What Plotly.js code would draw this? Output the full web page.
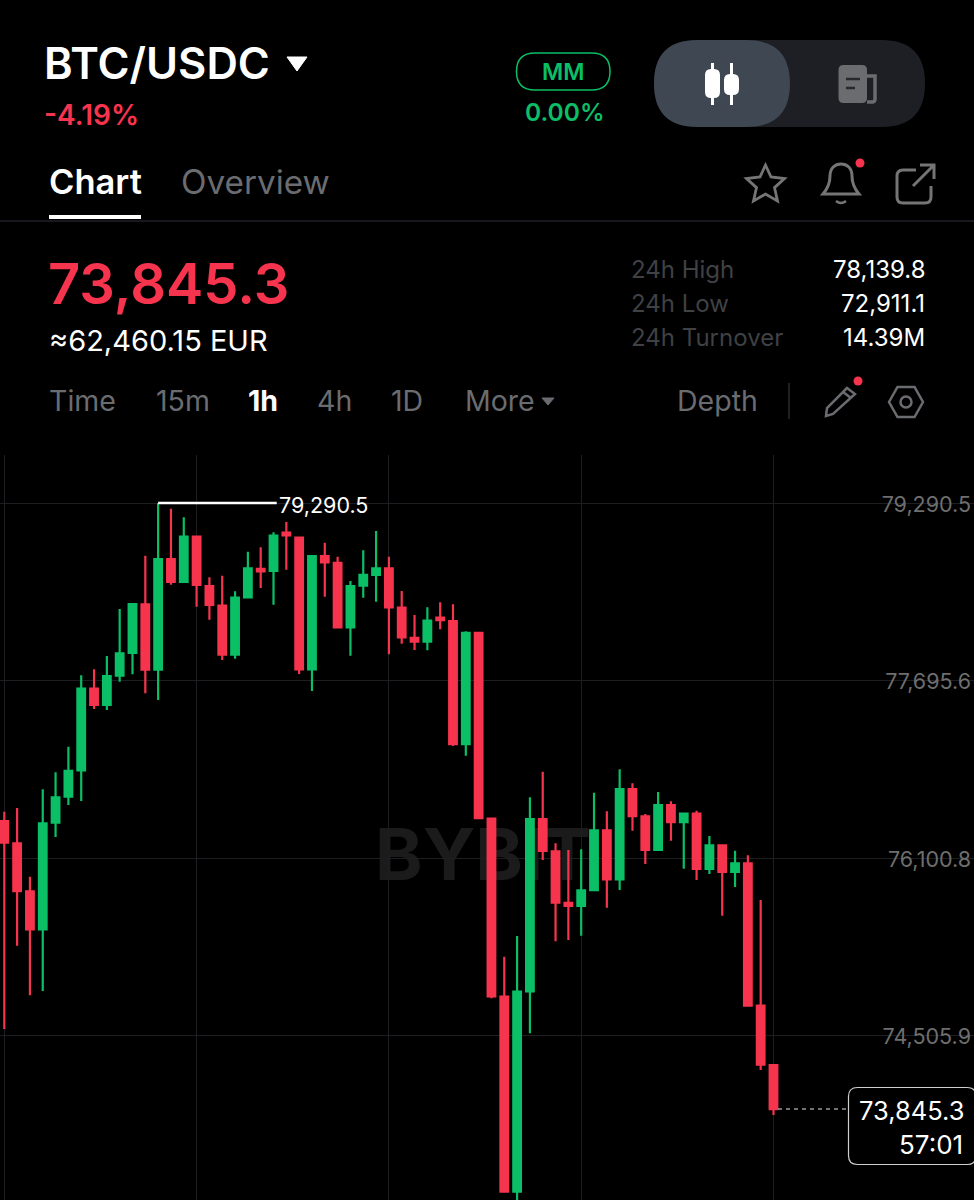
<!DOCTYPE html>
<html>
<head>
<meta charset="utf-8">
<script src="https://cdn.plot.ly/plotly-3.0.1.min.js"></script>
<style>
html,body{margin:0;padding:0;background:#000;width:974px;height:1200px;overflow:hidden}
#wm{position:absolute;left:375px;top:812px;font:700 72px Inter,sans-serif;color:#1b1b1b;line-height:84px;white-space:nowrap}
#chart{position:absolute;left:0;top:0;width:974px;height:1200px}
</style>
</head>
<body>
<div id="wm">BYBIT</div>
<div id="chart"></div>
<script>
const candleIndex = [0,1,2,3,4,5,6,7,8,9,10,11,12,13,14,15,16,17,18,19,20,21,22,23,24,25,26,27,28,29,30,31,32,33,34,35,36,37,38,39,40,41,42,43,44,45,46,47,48,49,50,51,52,53,54,55,56,57,58,59,60];
const opens = [76433,76233,75802,75460,76418,76652,76889,77622,77476,77739,77943,78381,77793,78787,78581,78988,78545,78368,77927,78443,78700,78680,79024,78979,77796,78814,78754,78174,78547,78644,78704,78350,78080,78044,78260,78230,77125,78125,76454,74855,73103,74903,76451,76161,75697,75670,75811,76350,75909,76721,76475,76173,76577,76424,76499,76002,76215,75975,76053,74774,74241];
const highs = [76517,76550,75933,76718,76871,77101,77742,77796,77916,78338,78386,78817,79290.5,79239,79162,78988,78623,78637,78497,78853,78893,79027,79120,78979,78823,78934,78808,78590,78866,79039,78808,78500,78284,78353,78398,78381,78138,78125,76454,75214,75400,76646,76876,76233,76173,76179,76688,76520,76898,76772,76496,76694,76610,76499,76526,76299,76215,76166,76125,75724,74241];
const lows = [74564,75313,74867,74906,76290,76577,76613,77440,77431,77685,77751,77581,77520,78556,78578,78359,78242,77880,77892,78434,78527,78377,78691,77754,77601,78449,78174,77919,78440,78404,77931,78026,77970,77967,78156,77107,77020,76458,74840,73103,72911.1,74526,76083,75352,75364,75403,75811,75654,75813,76346,76047,76173,76256,76005,75903,75957,75582,75840,74774,74196,73792];
const closes = [76238,75804,75460,76413,76646,76885,77622,77476,77736,77940,78383,77793,78787,78581,78988,78554,78374,77927,78440,78704,78677,78997,79000,77796,78814,78758,78174,78545,78644,78704,78353,78084,78044,78233,78239,77125,78125,76458,74858,73103,74900,76451,76164,75699,75670,75811,76350,75909,76721,76478,76173,76577,76424,76499,76002,76215,75975,76053,74774,74244,73845.3];

const yTickValues = [79290.5,77695.6,76100.8,74505.9];
const yTickLabels = ['79,290.5','77,695.6','76,100.8','74,505.9'];
const xGridValues = [0,15,30,45,60];
const peakPrice = 79290.5, peakLabel = '79,290.5', peakIndex = 12, peakLineEnd = 21.25;
const lastPrice = 73845.3, lastLabel = '73,845.3', countdown = '57:01', lastIndex = 60;

const RED='#F7344E', GREEN='#0BBF66', GREY='#6A6C70', DIM='#3F4145', ICON='#757575';

function ann(text,x,y,size,color,anchor,weight){
  return {text:text,x:x,y:y,xref:'x2',yref:'y2',showarrow:false,borderpad:0,
    xanchor:anchor||'left',yanchor:'middle',
    font:{family:'Inter, sans-serif',size:size,color:color,weight:weight||400}};
}
function rr(x0,y0,x1,y1,r){
  return `M${x0+r},${y0} L${x1-r},${y0} Q${x1},${y0} ${x1},${y0+r} L${x1},${y1-r} Q${x1},${y1} ${x1-r},${y1} L${x0+r},${y1} Q${x0},${y1} ${x0},${y1-r} L${x0},${y0+r} Q${x0},${y0} ${x0+r},${y0} Z`;
}
function shp(path,fill,stroke,w,layer){
  return {type:'path',path:path,xref:'x2',yref:'y2',fillcolor:fill||'rgba(0,0,0,0)',
    line:{color:stroke||'rgba(0,0,0,0)',width:stroke?(w||2):0},layer:layer||'above'};
}
function dot(cx,cy,r,fill,stroke,w){
  return {type:'circle',xref:'x2',yref:'y2',x0:cx-r,x1:cx+r,y0:cy-r,y1:cy+r,
    fillcolor:fill||'rgba(0,0,0,0)',line:{color:stroke||'rgba(0,0,0,0)',width:stroke?(w||2):0},layer:'above'};
}

const annotations = [
  ann('BTC/USDC',42.5,63,43.5,'#FFFFFF','left',600),
  ann('-4.19%',43,115,28,RED,'left',600),
  ann('Chart',47.5,181.5,34.5,'#FFFFFF','left',600),
  ann('Overview',179.5,182,33.3,GREY,'left',400),
  ann('MM',563,72,23,GREEN,'center',600),
  ann('0.00%',565,112,24.5,GREEN,'center',600),
  ann('73,845.3',47,283.5,56,RED,'left',600),
  ann('≈62,460.15 EUR',48,340,29,'#FFFFFF','left',400),
  ann('24h High',629.5,269.5,24,DIM,'left',400),
  ann('24h Low',629.5,303.5,24,DIM,'left',400),
  ann('24h Turnover',629.5,337.5,24,DIM,'left',400),
  ann('78,139.8',926,269.5,24,'#FFFFFF','right',400),
  ann('72,911.1',926,303.5,24,'#FFFFFF','right',400),
  ann('14.39M',926,337.5,24,'#FFFFFF','right',400),
  ann('Time',48,400.5,28.5,GREY),
  ann('15m',154.5,400.5,28.5,GREY),
  ann('1h',247,400.5,28.5,'#FFFFFF','left',700),
  ann('4h',316,400.5,28.5,GREY),
  ann('1D',389.5,400.5,28.5,GREY),
  ann('More',464,400.5,28.5,GREY),
  ann('Depth',676,400.5,28.5,GREY),
  ann(lastLabel,965,1110,25.5,'#FFFFFF','right',400),
  ann(countdown,963.5,1144,26,'#FFFFFF','right',400),
  {text:peakLabel,x:peakLineEnd,y:peakPrice,xref:'x',yref:'y',showarrow:false,borderpad:0,xanchor:'left',yanchor:'middle',xshift:1.5,yshift:-1.5,
   font:{family:'Inter, sans-serif',size:21.5,color:'#FFFFFF'}}
];

const shapes = [
  shp('M287,57 L307,57 L297,71 Z','#FFFFFF','#FFFFFF',1),
  shp('M49,217 L141,217','', '#FFFFFF',4),
  shp('M0,221 L974,221','', '#1E2028',1.5),
  shp(rr(516.5,53,610,90,18.5),'',GREEN,1.5),
  shp(rr(654,40,925,127,43.5),'#1D1F24'),
  shp(rr(654,40,790,127,43.5),'#3F4752'),
  shp('M712.5,63 L712.5,105','', '#FFFFFF',3),
  shp(rr(705,69,720,98,6),'#FFFFFF'),
  shp('M731.5,63 L731.5,105','', '#FFFFFF',3),
  shp(rr(724,74,739,95,6),'#FFFFFF'),
  shp(rr(838.5,65,867,103,5),'#6A6C70'),
  shp('M867,76 L875,76 L875,99 Q875,102 872,102 L867,102','', '#6A6C70',3.5),
  shp('M846,79 L860,79','', '#26282C',2.5),
  shp('M846,88 L855,88','', '#26282C',2.5),
  shp('M765.5,165 L771,177 L784.5,178.5 L774.5,187.6 L777.5,201 L765.5,194 L753.5,201 L756.5,187.6 L746.5,178.5 L760,177 Z','',ICON,2.8),
  shp('M823,194 L859,194 C853,187 852,182 852,176 C852,168 847,164 841,164 C835,164 830,168 830,176 C830,182 829,187 823,194 Z','',ICON,3),
  shp('M836,201 Q841,205 846,201','',ICON,2.5),
  dot(860,163,4.5,RED),
  shp('M916,170 L903,170 Q897,170 897,176 L897,197 Q897,203 903,203 L925,203 Q931,203 931,197 L931,186','',ICON,3),
  shp('M913,186 L934,165 M920,165 L934,165 L934,179','',ICON,3),
  shp('M542,398 L554,398 L548,405 Z',GREY,GREY,1),
  shp('M789,383 L789,419','', '#2A2C30',1.5),
  shp('M847,388 L855,394 L833,414 L826,416 L827,408 Z','',GREY,2.5),
  shp('M843,392 L851,398','',GREY,2.5),
  dot(858,381,4.5,RED),
  shp('M889,402 L897.5,387 L914.5,387 L923,402 L914.5,417 L897.5,417 Z','',GREY,2.5),
  dot(906,402,5.5,'',GREY,2.5),
  {type:'line',xref:'x',yref:'y',x0:peakIndex,x1:peakLineEnd,y0:peakPrice,y1:peakPrice,line:{color:'#FFFFFF',width:2.5},layer:'above'},
  {type:'line',xref:'x',yref:'y',x0:lastIndex+0.35,x1:66.1,y0:lastPrice,y1:lastPrice,line:{color:'#9A9A9A',width:1.5,dash:'4px,4px'},layer:'above'},
  shp(rr(848.5,1087.5,976,1164.5,9),'#000000','#CFCFCF',1.2)
];

const traces = [
  {type:'candlestick',x:candleIndex,open:opens,high:highs,low:lows,close:closes,
   xaxis:'x',yaxis:'y',whiskerwidth:0,hoverinfo:'skip',
   increasing:{line:{color:GREEN,width:2.2},fillcolor:GREEN},
   decreasing:{line:{color:RED,width:2.2},fillcolor:RED}},
  {type:'scatter',x:[],y:[],xaxis:'x2',yaxis:'y2',hoverinfo:'skip',showlegend:false}
];

const layout = {
  width:974,height:1200,margin:{l:0,r:0,t:0,b:0},
  paper_bgcolor:'rgba(0,0,0,0)',plot_bgcolor:'rgba(0,0,0,0)',showlegend:false,
  boxgap:0.15,
  xaxis:{domain:[0,1],range:[-0.335,75.64],tickmode:'array',tickvals:xGridValues,showticklabels:false,
    showgrid:true,gridcolor:'#1C1E22',gridwidth:1,zeroline:false,showline:false,ticks:'',
    rangeslider:{visible:false},anchor:'y',fixedrange:true},
  yaxis:{domain:[0,745/1200],range:[73028,79722],side:'right',ticklabelposition:'inside',
    ticklabelstandoff:-2.5,ticklabelshift:1,
    tickmode:'array',tickvals:yTickValues,ticktext:yTickLabels,
    tickfont:{family:'Inter, sans-serif',size:21.5,color:'#6E6E6E'},ticks:'',
    showgrid:true,gridcolor:'#1C1E22',gridwidth:1,zeroline:false,showline:false,anchor:'x',fixedrange:true},
  xaxis2:{domain:[0,1],range:[0,974],visible:false,anchor:'y2',fixedrange:true},
  yaxis2:{domain:[0,1],range:[1200,0],visible:false,anchor:'x2',fixedrange:true},
  annotations:annotations,shapes:shapes
};
Plotly.newPlot('chart',traces,layout,{staticPlot:true,displayModeBar:false});
</script>
</body>
</html>
